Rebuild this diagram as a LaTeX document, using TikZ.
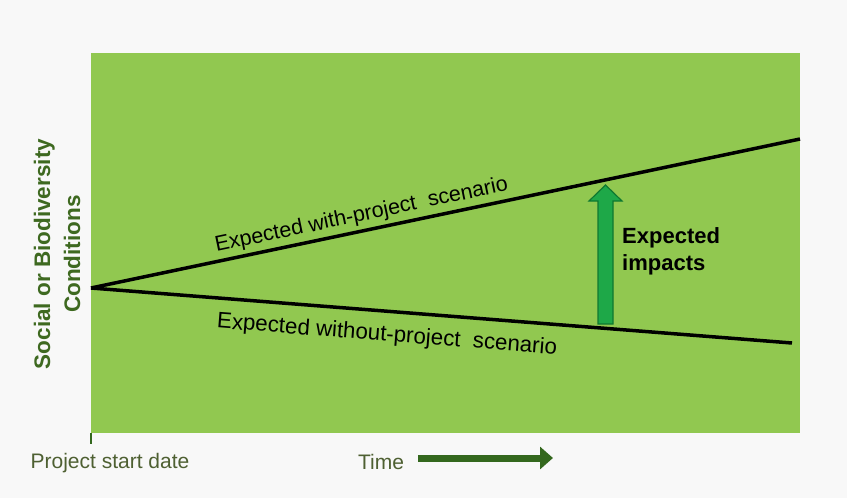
\documentclass[tikz,border=0pt]{standalone}
\usepackage{fontspec}
\setmainfont{Liberation Sans}
\usetikzlibrary{arrows.meta}
\definecolor{bgc}{RGB}{248,248,248}
\definecolor{fieldgreen}{RGB}{145,200,80}
\definecolor{darkgreen}{RGB}{52,104,30}
\definecolor{labelgreen}{RGB}{62,105,32}
\definecolor{textolive}{RGB}{78,96,50}
\definecolor{arrowfill}{RGB}{30,168,72}
\definecolor{arrowedge}{RGB}{16,120,48}
\tikzset{
  scenline/.style={line width=3.5pt, black},
  scentext/.style={font=\fontsize{21.5}{24}\selectfont, inner sep=0pt, sloped},
  axistext/.style={font=\fontsize{21}{24}\selectfont, text=textolive, inner sep=0pt},
}
\begin{document}
\begin{tikzpicture}[x=1pt,y=-1pt]
\useasboundingbox (0,0) rectangle (847,498);
\fill[bgc] (0,0) rectangle (847,498);
\fill[fieldgreen] (91,53) rectangle (800,433);
% y axis label
\node[rotate=90, align=center, font=\bfseries\fontsize{22.5}{30}\selectfont, text=labelgreen, inner sep=0pt] (ylab) at (57,254) {Social or Biodiversity\\Conditions};
% scenario lines
\coordinate (o) at (91,288);
\coordinate (u) at (800,139);
\coordinate (l) at (792,343);
\draw[scenline] (o) -- (u) node[scentext, pos=0.386, above=3.5pt] (wtxt) {Expected with-project\ \ scenario};
\draw[scenline] (o) -- (l) node[scentext, font=\fontsize{22.3}{24}\selectfont, pos=0.425, below=12pt] (wotxt) {Expected without-project\ \ scenario};
% impacts arrow
\filldraw[fill=arrowfill, draw=arrowedge, line width=1.2pt, line join=miter]
  (598,324) -- (598,201) -- (589,201) -- (605.5,185) -- (622,201) -- (613,201) -- (613,324) -- cycle;
\node[anchor=north west, align=left, font=\bfseries\fontsize{22}{27}\selectfont, inner sep=0pt] (imp) at (622,227) {Expected\\impacts};
% time axis
\draw[darkgreen, line width=2pt] (91,433) -- (91,444);
\node[axistext] (start) at (110,463) {Project start date};
\node[axistext] (time) at (381,462) {Time};
\coordinate (ta) at (418,458);
\coordinate (tb) at (553,458);
\draw[darkgreen, line width=7pt, -{Triangle[length=13pt,width=22pt]}] (ta) -- (tb);
\end{tikzpicture}
\end{document}
